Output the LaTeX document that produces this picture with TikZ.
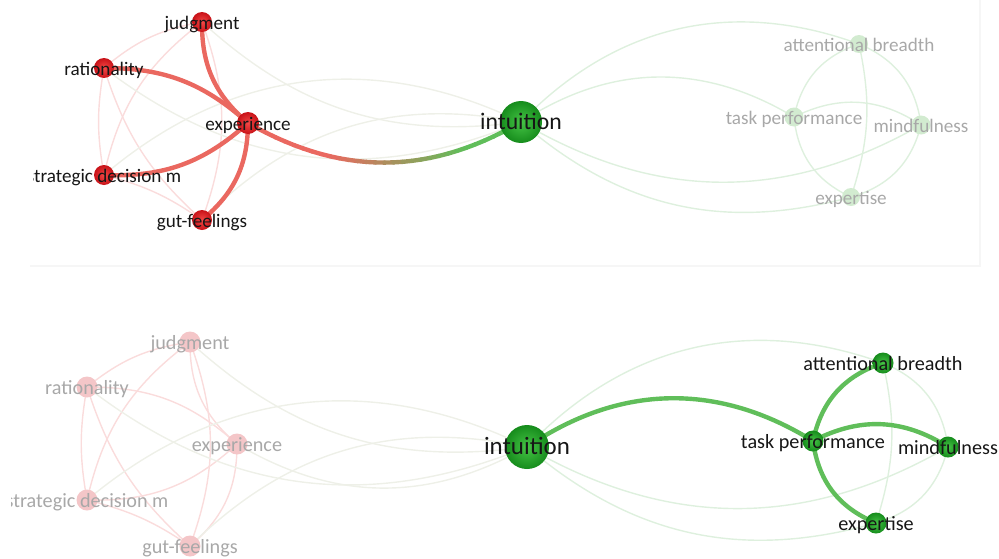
\documentclass[tikz,border=0pt]{standalone}
\usepackage{fontspec}
\setmainfont{Carlito}
\pgfdeclarelayer{edges}
\pgfsetlayers{edges,main}
\definecolor{hlred}{RGB}{234,104,96}
\definecolor{hlgreen}{RGB}{96,190,90}
\definecolor{fred}{RGB}{250,220,220}
\definecolor{fgreen}{RGB}{222,240,222}
\definecolor{fmix}{RGB}{238,240,232}
\definecolor{lbldark}{RGB}{22,22,22}
\definecolor{lblfade}{RGB}{168,168,168}
\definecolor{rin}{RGB}{244,72,70}
\definecolor{rout}{RGB}{200,18,24}
\definecolor{gin}{RGB}{70,196,70}
\definecolor{gout}{RGB}{22,140,28}
\definecolor{frnode}{RGB}{244,198,200}
\definecolor{fgnode}{RGB}{210,235,208}
\definecolor{panelline}{RGB}{246,246,246}
\tikzset{
  rnode/.style={circle, inner sep=0pt, minimum size=#1, inner color=rin, outer color=rout},
  gnode/.style={circle, inner sep=0pt, minimum size=#1, inner color=gin, outer color=gout},
  frn/.style={circle, inner sep=0pt, minimum size=#1, fill=frnode},
  fgn/.style={circle, inner sep=0pt, minimum size=#1, fill=fgnode},
  lbl/.style={inner sep=0pt, text height=2.1ex, text depth=0.35ex, text=lbldark, font=\fontsize{10.9pt}{12pt}\selectfont},
  lblb/.style={inner sep=0pt, text height=2.1ex, text depth=0.35ex, text=lbldark, font=\fontsize{11.5pt}{13pt}\selectfont},
  fade/.style={text=lblfade},
  fredge/.style={draw=fred, line width=0.8pt},
  fgedge/.style={draw=fgreen, line width=0.8pt},
  fmedge/.style={draw=fmix, line width=0.8pt},
  hredge/.style={draw=hlred, line width=2.5pt, line cap=round},
  hgedge/.style={draw=hlgreen, line width=2.5pt, line cap=round},
}
\begin{document}
\begin{tikzpicture}[x=0.02cm, y=-0.02cm]
\useasboundingbox (0,0) rectangle (999,558);
% panel frame of the upper view
\draw[panelline, line width=0.6pt] (30,266) -- (980,266) -- (980,0);

% ===================== upper view =====================
\node[rnode=0.40cm] (ja) at (202,22) {};
\node[rnode=0.40cm] (ra) at (104,68) {};
\node[rnode=0.44cm] (ea) at (248,123) {};
\node[rnode=0.40cm] (sa) at (104,175) {};
\node[rnode=0.40cm] (ga) at (202,220) {};
\node[gnode=0.84cm] (ia) at (521,122) {};
\node[fgn=0.36cm] (aa) at (859,44) {};
\node[fgn=0.38cm] (ta) at (794,117) {};
\node[fgn=0.38cm] (ma) at (921,125) {};
\node[fgn=0.36cm] (xa) at (851,197) {};

\begin{pgfonlayer}{edges}
  \path[fredge] (ja.center) to[bend right=15] (ra.center);
  \path[fredge] (ja.center) to[bend right=20] (sa.center);
  \path[fredge] (ja.center) to[bend left=20] (ga.center);
  \path[fredge] (ra.center) to[bend right=10] (sa.center);
  \path[fredge] (ra.center) to[bend right=15] (ga.center);
  \path[fredge] (sa.center) to[bend left=10] (ga.center);
  \path[fmedge] (ja.center) to[bend right=25] (ia.center);
  \path[fmedge] (ra.center) to[bend right=30] (ia.center);
  \path[fmedge] (sa.center) to[bend left=33] (ia.center);
  \path[fmedge] (ga.center) to[bend left=28] (ia.center);
  \path[fgedge] (ia.center) to[bend left=33] (aa.center);
  \path[fgedge] (ia.center) to[bend left=32] (ta.center);
  \path[fgedge] (ia.center) to[bend right=30] (ma.center);
  \path[fgedge] (ia.center) to[bend right=28] (xa.center);
  \path[fgedge] (aa.center) to[bend right=30] (ta.center);
  \path[fgedge] (ta.center) to[bend right=30] (xa.center);
  \path[fgedge] (xa.center) to[bend right=30] (ma.center);
  \path[fgedge] (ma.center) to[bend right=30] (aa.center);
  \path[fgedge] (aa.center) to[bend left=15] (xa.center);
  \path[fgedge] (ta.center) to[bend left=30] (ma.center);
  \path[hredge] (ea.center) to[bend left=25] (ja.center);
  \path[hredge] (ra.center) to[bend left=21] (ea.center);
  \path[hredge] (sa.center) to[bend right=22] (ea.center);
  \path[hredge] (ga.center) to[bend right=25] (ea.center);
  % experience -- intuition, red fading into green
  \foreach \k in {0,...,30} {
    \path (ea.center) to[bend right=30] node[coordinate, pos=\k/30] (grad\k) {} (ia.center);
  }
  \foreach \k in {1,...,30} {
    \pgfmathtruncatemacro{\kp}{\k-1}
    \pgfmathtruncatemacro{\pc}{max(0,min(100,200*(0.8-(\k-0.5)/30)))}
    \draw[hredge, draw=hlred!\pc!hlgreen] (grad\kp) -- (grad\k);
  }
\end{pgfonlayer}

\node[lbl] (ja-l) at (ja) {judgment};
\node[lbl] (ra-l) at (ra) {rationality};
\node[lbl] (ea-l) at (ea) {experience};
\begin{scope}
  \clip (33,150) rectangle (220,200);
  \node[lbl] (sa-l) at (sa) {strategic decision m};
\end{scope}
\node[lbl] (ga-l) at (ga) {gut-feelings};
\node[lbl, font=\fontsize{13.5pt}{15pt}\selectfont] (ia-l) at (ia) {intuition};
\node[lbl, fade] (aa-l) at (aa) {attentional breadth};
\node[lbl, fade] (ta-l) at (ta) {task performance};
\node[lbl, fade] (ma-l) at (ma) {mindfulness};
\node[lbl, fade] (xa-l) at (xa) {expertise};

% ===================== lower view =====================
\node[frn=0.42cm] (jb) at (190,342) {};
\node[frn=0.42cm] (rb) at (87,387) {};
\node[frn=0.42cm] (eb) at (237,444) {};
\node[frn=0.42cm] (sb) at (87,500) {};
\node[frn=0.42cm] (gb) at (190,546) {};
\node[gnode=0.88cm] (ib) at (527,447) {};
\node[gnode=0.42cm] (ab) at (883,363) {};
\node[gnode=0.42cm] (tb) at (813,441) {};
\node[gnode=0.42cm] (mb) at (948,447) {};
\node[gnode=0.42cm] (xb) at (876,523) {};

\begin{pgfonlayer}{edges}
  \path[fredge] (jb.center) to[bend right=15] (rb.center);
  \path[fredge] (jb.center) to[bend right=20] (sb.center);
  \path[fredge] (jb.center) to[bend left=20] (gb.center);
  \path[fredge] (rb.center) to[bend right=10] (sb.center);
  \path[fredge] (rb.center) to[bend right=15] (gb.center);
  \path[fredge] (sb.center) to[bend left=10] (gb.center);
  \path[fredge] (eb.center) to[bend left=25] (jb.center);
  \path[fredge] (rb.center) to[bend left=21] (eb.center);
  \path[fredge] (sb.center) to[bend right=22] (eb.center);
  \path[fredge] (gb.center) to[bend right=25] (eb.center);
  \path[fmedge] (jb.center) to[bend right=25] (ib.center);
  \path[fmedge] (rb.center) to[bend right=30] (ib.center);
  \path[fmedge] (sb.center) to[bend left=33] (ib.center);
  \path[fmedge] (gb.center) to[bend left=28] (ib.center);
  \path[fmedge] (eb.center) to[bend right=30] (ib.center);
  \path[fgedge] (ib.center) to[bend left=33] (ab.center);
  \path[fgedge] (ib.center) to[bend right=30] (mb.center);
  \path[fgedge] (ib.center) to[bend right=28] (xb.center);
  \path[fgedge] (xb.center) to[bend right=30] (mb.center);
  \path[fgedge] (mb.center) to[bend right=30] (ab.center);
  \path[fgedge] (ab.center) to[bend left=15] (xb.center);
  \path[hgedge] (ib.center) to[bend left=33] (tb.center);
  \path[hgedge] (ab.center) to[bend right=30] (tb.center);
  \path[hgedge] (tb.center) to[bend right=30] (xb.center);
  \path[hgedge] (tb.center) to[bend left=30] (mb.center);
\end{pgfonlayer}

\node[lblb, fade] (jb-l) at (jb) {judgment};
\node[lblb, fade] (rb-l) at (rb) {rationality};
\node[lblb, fade] (eb-l) at (eb) {experience};
\begin{scope}
  \clip (11,480) rectangle (220,520);
  \node[lblb, fade] (sb-l) at (sb) {strategic decision m};
\end{scope}
\node[lblb, fade] (gb-l) at (gb) {gut-feelings};
\node[lblb, font=\fontsize{14.2pt}{16pt}\selectfont] (ib-l) at (ib) {intuition};
\node[lblb] (ab-l) at (ab) {attentional breadth};
\node[lblb] (tb-l) at (tb) {task performance};
\node[lblb] (mb-l) at (mb) {mindfulness};
\node[lblb] (xb-l) at (xb) {expertise};
\end{tikzpicture}
\end{document}
